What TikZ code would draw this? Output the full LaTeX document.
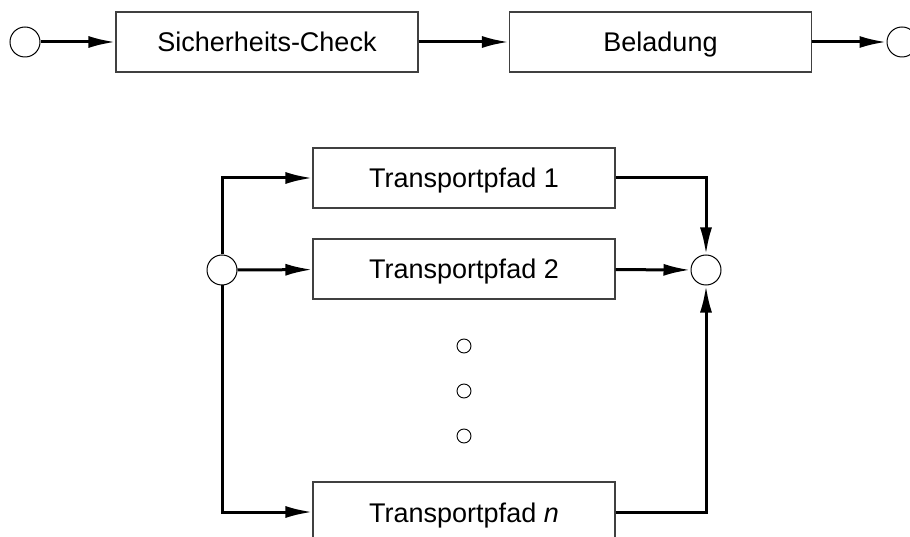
\documentclass[tikz,border=0pt]{standalone}
\usepackage{fontspec}
\setmainfont{Liberation Sans}
\usetikzlibrary{arrows.meta}
\begin{document}
\begin{tikzpicture}[x=1pt,y=-1pt,
  procbox/.style={draw=black!75, line width=1.1pt, minimum width=302pt, minimum height=60pt, inner sep=0pt, text height=20pt, text depth=0pt, font=\fontsize{27}{31}\selectfont},
  junction/.style={draw=black, line width=1pt, circle, minimum size=30pt, inner sep=0pt},
  dotmark/.style={draw=black, line width=0.9pt, circle, minimum size=14pt, inner sep=0pt},
  flow/.style={line width=3pt, -{Latex[length=27pt,width=12pt]}}]
\useasboundingbox (0,0) rectangle (910,537);
\clip (0,0) rectangle (910,537);
% top row
\node[junction] (s0) at (25,42) {};
\node[procbox] (sc) at (267,42) {Sicherheits-Check};
\node[procbox] (bl) at (660.5,42) {Beladung};
\node[junction] (s1) at (902,42) {};
\draw[flow] (s0) -- (sc);
\draw[flow] (sc) -- (bl);
\draw[flow] (bl) -- (s1);
% lower part
\node[junction] (a) at (222,270) {};
\node[junction] (b) at (706,270) {};
\node[procbox] (t1) at (464,178) {Transportpfad 1};
\node[procbox] (t2) at (464,269) {Transportpfad 2};
\node[procbox] (tn) at (464,512) {Transportpfad \textit{n}};
\node[dotmark] (d1) at (464,346) {};
\node[dotmark] (d2) at (464,391) {};
\node[dotmark] (d3) at (464,436) {};
\draw[flow] (a.north) |- (t1.west);
\draw[flow] (a) -- (t2);
\draw[flow] (a.south) |- (tn.west);
\draw[flow] (t1.east) -| (b.north);
\draw[flow] (t2) -- (b);
\draw[flow] (tn.east) -| (b.south);
\end{tikzpicture}
\end{document}
